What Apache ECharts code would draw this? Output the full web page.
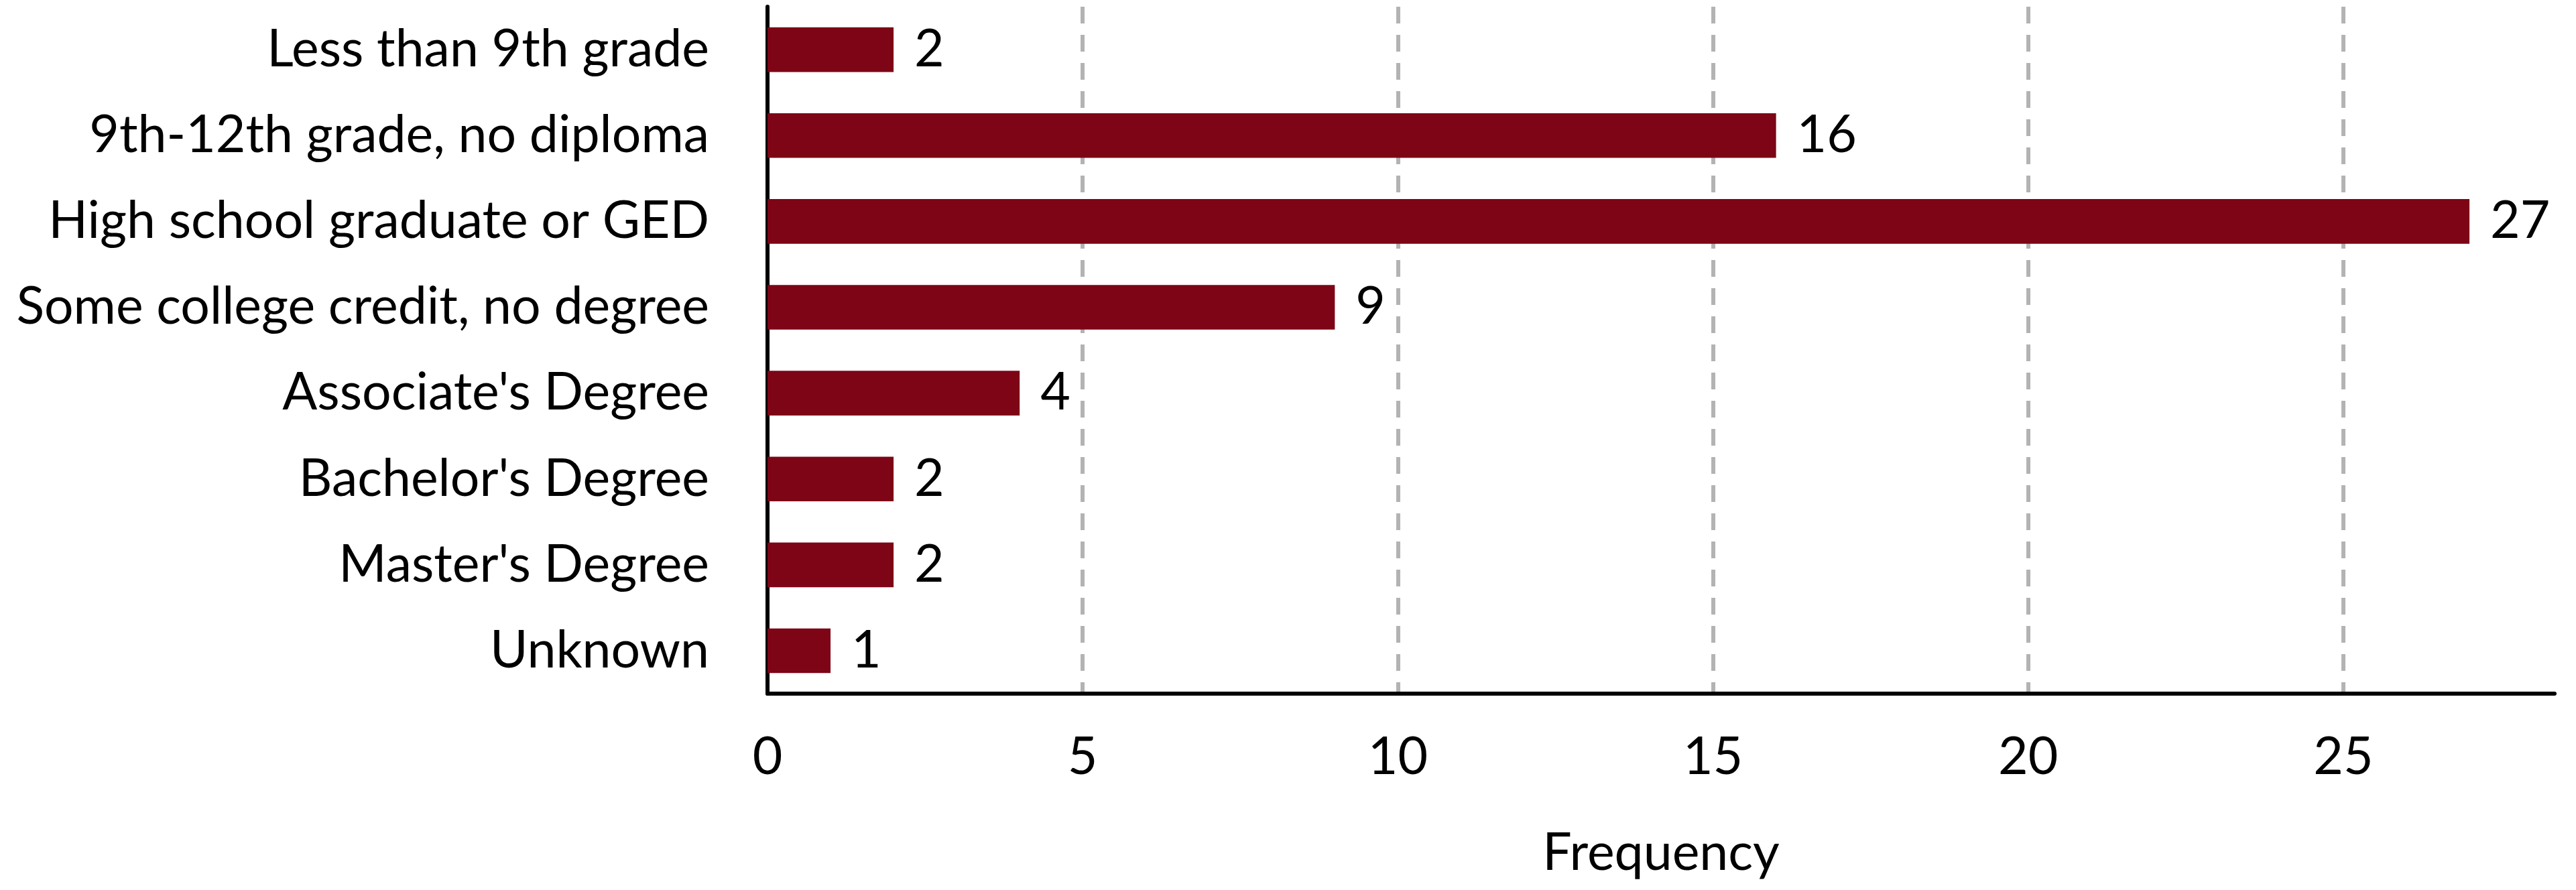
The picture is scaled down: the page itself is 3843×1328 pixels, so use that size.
<!DOCTYPE html>
<html>
<head>
<meta charset="utf-8">
<script src="https://cdn.jsdelivr.net/npm/echarts@6/dist/echarts.min.js"></script>
<style>
  html, body { margin: 0; padding: 0; background: #ffffff; }
  #chart { width: 3843px; height: 1328px; }
</style>
</head>
<body>
<div id="chart"></div>
<script>
// education levels, top to bottom
const categories = [
    'Less than 9th grade',
    '9th-12th grade, no diploma',
    'High school graduate or GED',
    'Some college credit, no degree',
    "Associate's Degree",
    "Bachelor's Degree",
    "Master's Degree",
    'Unknown'
];
const frequency = [2, 16, 27, 9, 4, 2, 2, 1];
const xTicks = [0, 5, 10, 15, 20, 25];

const FONT = 'Lato';
const barColor = '#7D0516';

const chart = echarts.init(document.getElementById('chart'));

const option = {
    backgroundColor: '#ffffff',
    animation: false,
    textStyle: { fontFamily: FONT },
    grid: {
        left: 1145,
        right: 32,
        top: 10,
        bottom: 293,
        containLabel: false
    },
    xAxis: {
        type: 'value',
        min: 0,
        max: 28.35,
        interval: 5,
        name: 'Frequency',
        nameLocation: 'middle',
        nameGap: 200,
        nameTextStyle: { fontFamily: FONT, fontSize: 77, color: '#000' },
        axisLine: { show: true, lineStyle: { color: '#000', width: 6 } },
        axisTick: { show: false },
        axisLabel: {
            fontFamily: FONT,
            fontSize: 77,
            color: '#000',
            margin: 57,
            showMaxLabel: false,
            formatter: function (v) { return xTicks.indexOf(v) >= 0 ? String(v) : ''; }
        },
        splitLine: {
            show: true,
            showMinLine: false,
            showMaxLine: false,
            lineStyle: { color: '#b3b3b3', width: 6, type: [25, 17] }
        }
    },
    yAxis: {
        type: 'category',
        data: categories,
        inverse: true,
        axisLine: { show: true, lineStyle: { color: '#000', width: 6 } },
        axisTick: { show: false },
        axisLabel: {
            fontFamily: FONT,
            fontSize: 77,
            color: '#000',
            margin: 87
        },
        splitLine: { show: false }
    },
    series: [
        {
            type: 'bar',
            data: frequency,
            barCategoryGap: '48%',
            itemStyle: { color: barColor },
            label: {
                show: true,
                position: 'right',
                distance: 31,
                fontFamily: FONT,
                fontSize: 77,
                color: '#000'
            }
        }
    ]
};

chart.setOption(option);
</script>
</body>
</html>
